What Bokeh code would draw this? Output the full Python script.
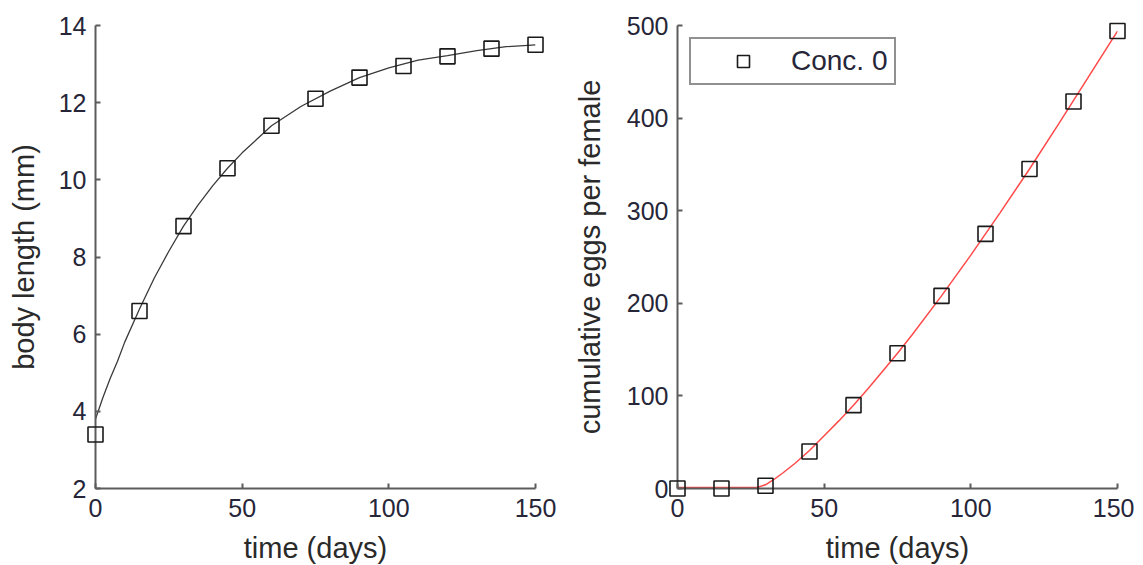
from bokeh.plotting import figure
from bokeh.models import Range1d, FixedTicker, Legend, LegendItem
from bokeh.layouts import row
from bokeh.embed import file_html
from bokeh.resources import INLINE

# ---- data: body length panel ----
obs_time = [0, 15, 30, 45, 60, 75, 90, 105, 120, 135, 150]
obs_length = [3.4, 6.6, 8.8, 10.3, 11.4, 12.1, 12.65, 12.95, 13.2, 13.4, 13.5]
fit_time_len = [0, 2.5, 5, 7.5, 10, 15, 20, 25, 30, 35, 40, 45, 50, 55, 60, 70, 80, 90, 100, 110, 120, 130, 140, 150]
fit_length = [3.8, 4.35, 4.85, 5.3, 5.8, 6.65, 7.45, 8.15, 8.8, 9.35, 9.85, 10.3, 10.7, 11.05, 11.4,
              11.9, 12.3, 12.65, 12.9, 13.1, 13.22, 13.35, 13.45, 13.5]

# ---- data: cumulative eggs panel ----
obs_eggs = [0, 0, 3, 40, 90, 146, 208, 275, 345, 418, 494]
fit_time_egg = [0, 10, 20, 27, 30, 33, 36, 40, 45, 50, 55, 60, 65, 70, 75, 80, 90, 100, 110, 120, 130, 140, 150]
fit_eggs = [1, 1, 1, 1, 4, 10, 17, 27, 41, 57, 73, 90, 108, 127, 146, 166, 208, 252, 298, 345, 394, 444, 494]

x_ticks = [0, 50, 100, 150]
len_ticks = [2, 4, 6, 8, 10, 12, 14]
egg_ticks = [0, 100, 200, 300, 400, 500]

FONT = "Liberation Sans"
TICK_COL = "#262638"
AX_COL = "#5c5c5c"


def style(p, yticks):
    p.xgrid.visible = False
    p.ygrid.visible = False
    p.outline_line_color = None
    p.xaxis.ticker = FixedTicker(ticks=x_ticks)
    p.yaxis.ticker = FixedTicker(ticks=yticks)
    for ax in (p.xaxis[0], p.yaxis[0]):
        ax.axis_line_color = AX_COL
        ax.axis_line_width = 2
        ax.major_tick_line_color = AX_COL
        ax.major_tick_line_width = 2
        ax.major_tick_in = 5
        ax.major_tick_out = 0
        ax.minor_tick_line_color = None
        ax.major_label_text_font = FONT
        ax.major_label_text_font_size = "25px"
        ax.major_label_text_color = TICK_COL
        ax.axis_label_text_font = FONT
        ax.axis_label_text_font_size = "29px"
        ax.axis_label_text_font_style = "normal"
        ax.axis_label_text_color = "#2a2a2a"
    p.xaxis.major_label_standoff = 10
    p.xaxis.axis_label_standoff = 12
    p.yaxis.major_label_standoff = 9


p1 = figure(frame_width=440, frame_height=463, output_backend="svg", toolbar_location=None,
            x_range=Range1d(0, 150), y_range=Range1d(2, 14),
            min_border_left=95, min_border_right=24, min_border_top=25, min_border_bottom=10)
style(p1, len_ticks)
p1.yaxis.axis_label_standoff = 16
p1.xaxis.axis_label = "time (days)"
p1.yaxis.axis_label = "body length (mm)"
p1.line(fit_time_len, fit_length, line_color="#3a3a3a", line_width=1.3)
p1.scatter(obs_time, obs_length, marker="square", size=15, fill_color=None,
           line_color="#1a1a1a", line_width=1.6, level="overlay")

p2 = figure(frame_width=440, frame_height=463, output_backend="svg", toolbar_location=None,
            x_range=Range1d(0, 150), y_range=Range1d(0, 500),
            min_border_left=118, min_border_right=17, min_border_top=25, min_border_bottom=10)
style(p2, egg_ticks)
p2.yaxis.axis_label_standoff = 18
p2.xaxis.axis_label = "time (days)"
p2.yaxis.axis_label = "cumulative eggs per female"
p2.line(fit_time_egg, fit_eggs, line_color="#ff4a4a", line_width=1.5)
r = p2.scatter(obs_time, obs_eggs, marker="square", size=15, fill_color=None,
               line_color="#1a1a1a", line_width=1.6, level="overlay")

legend = Legend(items=[LegendItem(label="Conc. 0", renderers=[r])],
                location=(12, 403), padding=6, spacing=0,
                glyph_width=92, glyph_height=30, label_standoff=2,
                label_text_font=FONT, label_text_font_size="28px",
                label_text_color=TICK_COL,
                border_line_color="#222222", border_line_width=2,
                background_fill_color="white", background_fill_alpha=1.0)
p2.add_layout(legend)

layout = row(p1, p2)
open("out.html", "w").write(file_html(layout, INLINE))
